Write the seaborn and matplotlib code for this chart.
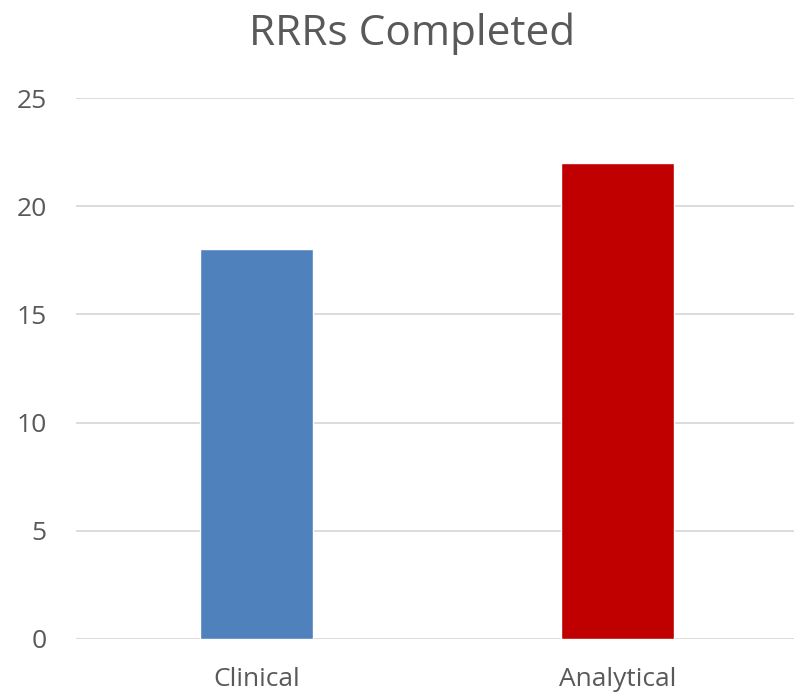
import matplotlib
matplotlib.use("Agg")
import matplotlib.pyplot as plt
import seaborn as sns
import pandas as pd

categories = ["Clinical", "Analytical"]
values = [18, 22]
bar_colors = ["#4F81BD", "#C00000"]
yticks = [0, 5, 10, 15, 20, 25]
title = "RRRs Completed"

sns.set_theme(style="white")
plt.rcParams["font.family"] = ["Open Sans", "DejaVu Sans"]

text_color = "#595959"
grid_color = "#D9D9D9"

df = pd.DataFrame({"category": categories, "value": values})

fig = plt.figure(figsize=(7.94, 6.94), dpi=100)
ax = fig.add_axes([76 / 794, 1 - 639 / 694, 722 / 794, (639 - 98) / 694])

sns.barplot(data=df, x="category", y="value", hue="category",
            palette=bar_colors, width=0.313, legend=False, saturation=1,
            ax=ax, zorder=3)

ax.set_ylim(0, 25)
ax.set_xlim(-0.5, 1.5)
ax.set_yticks(yticks)
ax.set_yticklabels([str(t) for t in yticks])
ax.yaxis.grid(True, color=grid_color, linewidth=1.3, zorder=0)
ax.set_axisbelow(True)
for s in ax.spines.values():
    s.set_visible(False)
ax.tick_params(axis="both", length=0, colors=text_color, labelsize=19)
ax.tick_params(axis="y", pad=21)
ax.tick_params(axis="x", pad=20)
ax.set_xlabel("")
ax.set_ylabel("")

fig.text(412 / 794, 1 - 45 / 694, title, ha="center", va="baseline",
         fontsize=30.5, color=text_color)

fig.savefig("out.png", dpi=100)
